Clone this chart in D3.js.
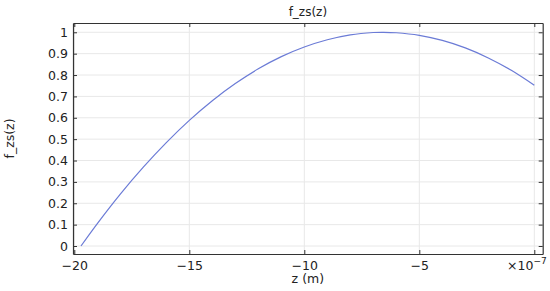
<!DOCTYPE html>
<html><head><meta charset="utf-8">
<script src="https://cdn.jsdelivr.net/npm/d3@7"></script>
<style>body{margin:0;background:#fff}svg{display:block}text{font-family:"DejaVu Sans",sans-serif;fill:#222}</style>
</head><body><svg id="c" width="550" height="291"></svg>
<script>
const zVals = [-19.71, -19, -18, -17, -16, -15, -14, -13, -12, -11, -10, -9, -8, -7, -6.55, -6, -5, -4, -3, -2, -1, 0];
const fVals = [0, 0.105, 0.243, 0.369, 0.484, 0.588, 0.680, 0.760, 0.829, 0.886, 0.931, 0.965, 0.988, 0.999, 1.0, 0.998, 0.986, 0.962, 0.927, 0.880, 0.822, 0.752];
const xTicks = [-20, -15, -10, -5, 0];
const xTickLabels = ["−20", "−15", "−10", "−5", ""];
const yTicks = [0, 0.1, 0.2, 0.3, 0.4, 0.5, 0.6, 0.7, 0.8, 0.9, 1];
const title = "f_zs(z)", xLabel = "z (m)", yLabel = "f_zs(z)";

const svg = d3.select("#c");
const L = 73, R = 542.7, T = 23, B = 254;
const x = d3.scaleLinear().domain([-20.057, 0.365]).range([L, R]);
const y = d3.scaleLinear().domain([-0.0374, 1.0435]).range([B, T]);

// grid
const g = svg.append("g");
g.selectAll(".gx").data(xTicks).join("line").attr("x1", d => x(d)).attr("x2", d => x(d)).attr("y1", T).attr("y2", B).attr("stroke", "#e8e8e8").attr("stroke-width", 1);
g.selectAll(".gy").data(yTicks).join("line").attr("y1", d => y(d)).attr("y2", d => y(d)).attr("x1", L).attr("x2", R).attr("stroke", "#e8e8e8").attr("stroke-width", 1);

// curve
const data = zVals.map((z, i) => [z, fVals[i]]);
svg.append("path").datum(data).attr("fill", "none").attr("stroke", "#6b7bd6").attr("stroke-width", 1.2)
  .attr("d", d3.line().x(d => x(d[0])).y(d => y(d[1])).curve(d3.curveCatmullRom.alpha(0.5)));

// axes (inside ticks)
const tk = 4;
const axB = svg.append("g").attr("transform", `translate(0,${B})`).call(d3.axisBottom(x).tickValues(xTicks).tickSize(-tk).tickSizeOuter(0).tickFormat((d, i) => xTickLabels[i]));
const axT = svg.append("g").attr("transform", `translate(0,${T})`).call(d3.axisTop(x).tickValues(xTicks).tickSize(-tk).tickSizeOuter(0).tickFormat(""));
const axL = svg.append("g").attr("transform", `translate(${L},0)`).call(d3.axisLeft(y).tickValues(yTicks).tickSize(-tk).tickSizeOuter(0).tickFormat(d3.format("~g")));
const axR = svg.append("g").attr("transform", `translate(${R},0)`).call(d3.axisRight(y).tickValues(yTicks).tickSize(-tk).tickSizeOuter(0).tickFormat(""));
[axB, axT, axL, axR].forEach(a => {
  a.select(".domain").attr("stroke", "#333").attr("stroke-width", 1.2);
  a.selectAll(".tick line").attr("stroke", "#333").attr("stroke-width", 1);
  a.selectAll("text").attr("font-size", 12.5).attr("fill", "#222").attr("font-family", "DejaVu Sans");
});
axB.selectAll(".tick text").attr("dy", null).attr("y", 15.5);
axL.selectAll(".tick text").attr("x", -5);

// x10^-7
const mult = svg.append("text").attr("x", 507).attr("y", 269.5).attr("font-size", 12.5);
mult.append("tspan").text("×10");
mult.append("tspan").attr("dy", -6).attr("font-size", 9).text("−7");

// labels
svg.append("text").attr("x", (L + R) / 2).attr("y", 16).attr("text-anchor", "middle").attr("font-size", 12).text(title);
svg.append("text").attr("x", (L + R) / 2).attr("y", 283).attr("text-anchor", "middle").attr("font-size", 12.5).text(xLabel);
svg.append("text").attr("transform", `translate(14,${(T + B) / 2}) rotate(-90)`).attr("text-anchor", "middle").attr("font-size", 12.5).text(yLabel);
</script></body></html>
